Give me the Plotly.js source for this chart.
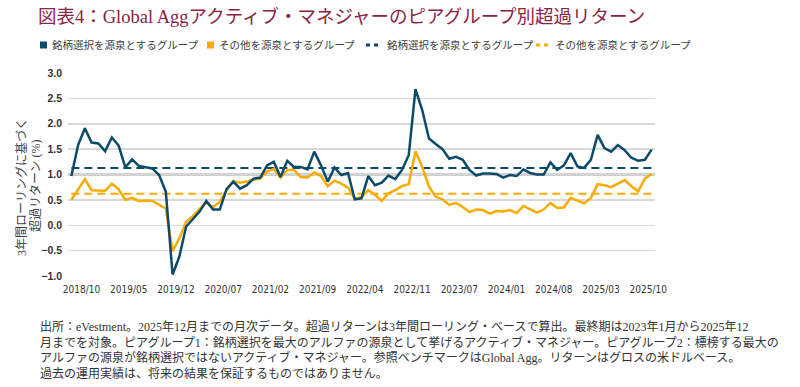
<!DOCTYPE html>
<html><head><meta charset="utf-8">
<script src="https://cdn.plot.ly/plotly-3.0.1.min.js"></script>
<style>html,body{margin:0;padding:0;background:#fff}#chart{width:800px;height:387px}</style>
</head><body><div id="chart"></div>
<script>
// ---- data ----
const months = [
 "2018/10","2018/11","2018/12",
 "2019/01","2019/02","2019/03","2019/04","2019/05","2019/06","2019/07","2019/08","2019/09","2019/10","2019/11","2019/12",
 "2020/01","2020/02","2020/03","2020/04","2020/05","2020/06","2020/07","2020/08","2020/09","2020/10","2020/11","2020/12",
 "2021/01","2021/02","2021/03","2021/04","2021/05","2021/06","2021/07","2021/08","2021/09","2021/10","2021/11","2021/12",
 "2022/01","2022/02","2022/03","2022/04","2022/05","2022/06","2022/07","2022/08","2022/09","2022/10","2022/11","2022/12",
 "2023/01","2023/02","2023/03","2023/04","2023/05","2023/06","2023/07","2023/08","2023/09","2023/10","2023/11","2023/12",
 "2024/01","2024/02","2024/03","2024/04","2024/05","2024/06","2024/07","2024/08","2024/09","2024/10","2024/11","2024/12",
 "2025/01","2025/02","2025/03","2025/04","2025/05","2025/06","2025/07","2025/08","2025/09","2025/10","2025/11","2025/12"
];
const tickLabels = ["2018/10","2019/05","2019/12","2020/07","2021/02","2021/09","2022/04","2022/11","2023/07","2024/01","2024/08","2025/03","2025/10"];

const stockSelection = [
 0.97,1.58,1.91,1.63,1.61,1.46,1.73,1.57,1.14,1.30,1.17,1.15,1.12,0.99,0.66,
 -0.97,-0.62,-0.03,0.12,0.27,0.48,0.31,0.31,0.71,0.86,0.72,0.79,0.92,0.94,1.18,
 1.25,0.95,1.27,1.15,1.15,1.10,1.45,1.18,0.86,1.14,0.99,1.03,0.51,0.53,0.97,
 0.79,0.84,0.98,0.91,1.09,1.38,2.68,2.27,1.71,1.60,1.50,1.31,1.35,1.29,1.09,
 0.98,1.02,1.02,1.01,0.94,0.99,0.97,1.10,1.03,1.00,1.00,1.24,1.09,1.18,1.42,
 1.16,1.13,1.29,1.78,1.52,1.45,1.58,1.48,1.33,1.27,1.29,1.49
];
const otherSources = [
 0.50,0.71,0.91,0.69,0.68,0.68,0.82,0.71,0.50,0.54,0.48,0.49,0.48,0.41,0.33,
 -0.51,-0.26,0.07,0.18,0.32,0.44,0.36,0.46,0.69,0.87,0.84,0.86,0.90,0.92,1.06,
 1.11,0.94,1.09,1.09,0.95,0.94,1.04,0.97,0.77,0.88,0.82,0.74,0.52,0.55,0.69,
 0.60,0.48,0.63,0.69,0.77,0.81,1.46,1.15,0.76,0.56,0.51,0.40,0.44,0.36,0.26,
 0.31,0.30,0.23,0.28,0.27,0.30,0.24,0.38,0.32,0.25,0.31,0.44,0.34,0.35,0.54,
 0.49,0.43,0.54,0.81,0.79,0.75,0.82,0.89,0.77,0.67,0.92,1.01
];
const stockSelectionAvg = 1.13;
const otherSourcesAvg = 0.62;
const referenceLevel = 1.0;

const seriesNames = ["銘柄選択を源泉とするグループ","その他を源泉とするグループ"];

// ---- style ----
const BLUE = "#0c4a6b", ORANGE = "#f9ab00", TITLE_COLOR = "#8b2346", TXT = "#404040";
const PL = 68, PR = 655, PT = 73, PB = 276;
const px2x = px => (px - PL) / (PR - PL);
const py2y = py => (PB - py) / (PB - PT);
const SERIF_JP = "'Liberation Serif', 'Noto Sans CJK JP', serif";
const LABEL_OFFSET = 1.5, LABEL_STEP = 7;

const idx = months.map((m, i) => i);

const traces = [
 {x: idx, y: months.map(() => stockSelectionAvg), mode: "lines", name: seriesNames[0] + "（平均）",
  line: {color: BLUE, width: 2, dash: "8px,5px"}, text: months, hoverinfo: "text+y"},
 {x: idx, y: months.map(() => otherSourcesAvg), mode: "lines", name: seriesNames[1] + "（平均）",
  line: {color: ORANGE, width: 2, dash: "8px,5px"}, text: months, hoverinfo: "text+y"},
 {x: idx, y: otherSources, mode: "lines", name: seriesNames[1],
  line: {color: ORANGE, width: 2.5}, text: months, hoverinfo: "text+y"},
 {x: idx, y: stockSelection, mode: "lines", name: seriesNames[0],
  line: {color: BLUE, width: 2.5}, text: months, hoverinfo: "text+y"}
];

const legendItems = [
 {label: seriesNames[0], color: BLUE, kind: "square", x: 40, tx: 50},
 {label: seriesNames[1], color: ORANGE, kind: "square", x: 207, tx: 217},
 {label: seriesNames[0], color: BLUE, kind: "dash", x: 366, tx: 385},
 {label: seriesNames[1], color: ORANGE, kind: "dash", x: 536, tx: 553}
];
const LEG_Y = 45;

const shapes = [
 {type: "line", xref: "paper", yref: "y", x0: 0, x1: 1, y0: referenceLevel, y1: referenceLevel,
  line: {color: "#3a3a3a", width: 1.5}, layer: "below"}
];
const annotations = [];
legendItems.forEach(it => {
 if (it.kind === "square") {
  shapes.push({type: "rect", xref: "paper", yref: "paper",
   x0: px2x(it.x), x1: px2x(it.x + 7), y0: py2y(LEG_Y + 3.5), y1: py2y(LEG_Y - 3.5),
   fillcolor: it.color, line: {width: 0}});
 } else {
  shapes.push({type: "line", xref: "paper", yref: "paper",
   x0: px2x(it.x), x1: px2x(it.x + 12), y0: py2y(LEG_Y), y1: py2y(LEG_Y),
   line: {color: it.color, width: 3, dash: "4px,4px"}});
 }
 annotations.push({xref: "paper", yref: "paper", x: px2x(it.tx), y: py2y(LEG_Y),
  xanchor: "left", yanchor: "middle", showarrow: false, text: it.label,
  font: {family: SERIF_JP, size: 10.5, color: TXT}});
});

// y-axis title (two lines)
annotations.push({xref: "paper", yref: "paper", x: px2x(22), y: py2y(187), xanchor: "center", yanchor: "middle",
 textangle: -90, showarrow: false, text: "3年間ローリングに基づく", font: {family: SERIF_JP, size: 12, color: TXT}});
annotations.push({xref: "paper", yref: "paper", x: px2x(35), y: py2y(186), xanchor: "center", yanchor: "middle",
 textangle: -90, showarrow: false, text: "超過リターン (%)", font: {family: SERIF_JP, size: 12, color: TXT}});

// footnote
annotations.push({xref: "paper", yref: "paper", x: px2x(38), y: py2y(317), xanchor: "left", yanchor: "top",
 align: "left", showarrow: false,
 text: "出所：eVestment。2025年12月までの月次データ。超過リターンは3年間ローリング・ベースで算出。最終期は2023年1月から2025年12<br>" +
       "月までを対象。ピアグループ1：銘柄選択を最大のアルファの源泉として挙げるアクティブ・マネジャー。ピアグループ2：標榜する最大の<br>" +
       "アルファの源泉が銘柄選択ではないアクティブ・マネジャー。参照ベンチマークはGlobal Agg。リターンはグロスの米ドルベース。<br>" +
       "過去の運用実績は、将来の結果を保証するものではありません。",
 font: {family: SERIF_JP, size: 12, color: "#333"}});

const layout = {
 width: 800, height: 387,
 margin: {l: PL, r: 800 - PR, t: PT, b: 387 - PB, pad: 0},
 paper_bgcolor: "#fff", plot_bgcolor: "#fff",
 showlegend: false,
 title: {text: "図表4：Global Aggアクティブ・マネジャーのピアグループ別超過リターン",
  x: 38 / 800, xref: "container", xanchor: "left", y: 1 - 17 / 387, yref: "container", yanchor: "middle",
  font: {family: SERIF_JP, size: 18.5, color: TITLE_COLOR}},
 xaxis: {
  range: [-0.5, months.length - 0.5], showgrid: false, zeroline: false, showline: false,
  tickvals: tickLabels.map((l, k) => LABEL_OFFSET + k * LABEL_STEP), ticktext: tickLabels,
  ticks: "", ticklabelstandoff: 6,
  tickfont: {family: "'Liberation Sans Narrow', 'DejaVu Sans Condensed', sans-serif", size: 10, color: "#333"}
 },
 yaxis: {
  range: [-1, 3], dtick: 0.5, tick0: 0, tickformat: ".1f",
  showgrid: true, gridcolor: "#d9d9d9", gridwidth: 1.5, zeroline: false, showline: false,
  ticks: "", ticklabelstandoff: 5,
  tickfont: {family: "'Liberation Sans', Arial, sans-serif", size: 10.5, color: "#333", weight: "bold"}
 },
 shapes: shapes,
 annotations: annotations
};

Plotly.newPlot("chart", traces, layout, {staticPlot: true, displayModeBar: false});
</script></body></html>
